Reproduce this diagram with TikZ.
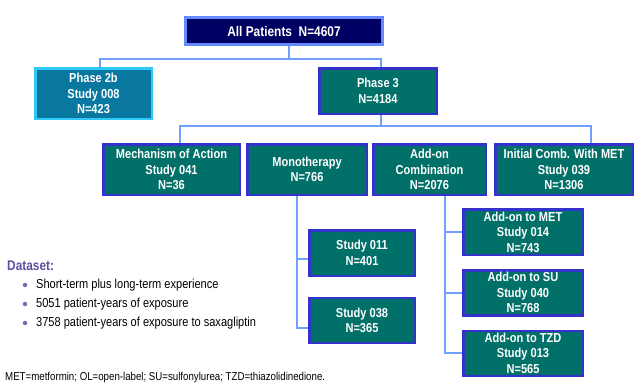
\documentclass[tikz,border=0pt]{standalone}
\usepackage{fontspec}
\setmainfont{Liberation Sans}[FakeStretch=0.85]
\usepackage{xcolor}
\usepackage{tikz}
\usetikzlibrary{positioning}
\definecolor{navyfill}{HTML}{000062}
\definecolor{paleedge}{HTML}{6688FF}
\definecolor{linkblue}{HTML}{72A0FF}
\definecolor{studyfill}{HTML}{007068}
\definecolor{studyedge}{HTML}{3333CC}
\definecolor{phasefill}{HTML}{0878A0}
\definecolor{phaseedge}{HTML}{30C8F8}
\definecolor{datacol}{HTML}{5C4F9F}
\definecolor{dotcol}{HTML}{6E6EB0}
\tikzstyle{topbox} = [rectangle, draw=paleedge, line width=3pt, fill=navyfill, text=white, font=\bfseries\fontsize{14}{16}\selectfont, minimum width=197pt, minimum height=27pt, inner sep=0pt]
\tikzstyle{study} = [rectangle, draw=studyedge, line width=2.5pt, fill=studyfill, text=white, align=center, font=\bfseries\fontsize{13}{15.5}\selectfont, inner sep=0pt]
\tikzstyle{link} = [draw=linkblue, line width=2pt]
\tikzstyle{dot} = [circle, fill=dotcol, minimum size=4.5pt, inner sep=0pt]
\tikzstyle{item} = [anchor=west, inner sep=0pt, font=\fontsize{13}{15}\selectfont]

\begin{document}
\begin{tikzpicture}[x=1pt, y=-1pt]
        \useasboundingbox (0,0) rectangle (635,389);
        \node (all) [topbox] at (284,31) {All Patients\ \ N=4607};
        \node (p2b) [study, fill=phasefill, draw=phaseedge, minimum width=116.5pt, minimum height=50.5pt] at (93.5,93.5) {Phase 2b\\Study 008\\N=423};
        \node (p3) [study, minimum width=117.5pt, minimum height=45.5pt] at (378,91) {Phase 3\\N=4184};

        \node (moa) [study, minimum width=136.5pt, minimum height=50.5pt] at (171.5,169.5) {Mechanism of Action\\Study 041\\N=36};
        \node (mono) [study, minimum width=119.5pt, minimum height=50.5pt, right=5pt of moa] {Monotherapy\\N=766};
        \node (addon) [study, minimum width=112.5pt, minimum height=50.5pt, right=4pt of mono] {Add-on\\Combination\\N=2076};
        \node (init) [study, minimum width=137.5pt, minimum height=50.5pt, right=7pt of addon] {Initial Comb. With MET\\Study 039\\N=1306};

        \node (s011) [study, minimum width=105.5pt, minimum height=45.5pt] at (362,253) {Study 011\\N=401};
        \node (s038) [study, minimum width=105.5pt, minimum height=45pt, below=19.5pt of s011] {Study 038\\N=365};

        \node (addmet) [study, minimum width=119.5pt, minimum height=45.5pt] at (523,232) {Add-on to MET\\Study 014\\N=743};
        \node (addsu) [study, minimum width=119.5pt, minimum height=45pt, below=13pt of addmet] {Add-on to SU\\Study 040\\N=768};
        \node (addtzd) [study, minimum width=119.5pt, minimum height=45pt, below=13pt of addsu] {Add-on to TZD\\Study 013\\N=565};

        \draw [link] ([xshift=5pt]all.south) -- ++(0,13) coordinate (bus1);
        \draw [link] ([xshift=6.5pt]p2b.north) |- (bus1) -| ([xshift=3pt]p3.north);
        \draw [link] ([xshift=3pt]p3.south) -- ++(0,11) coordinate (bus2);
        \draw [link] ([xshift=8.5pt]moa.north) |- (bus2) -| ([xshift=27pt]init.north);
        \draw [link] ([xshift=-10pt]mono.south) |- ([yshift=-6pt]s011.west);
        \draw [link] ([xshift=-10pt]mono.south) |- ([yshift=-7.5pt]s038.west);
        \draw [link] ([xshift=15.5pt]addon.south) |- (addmet.west);
        \draw [link] ([xshift=15.5pt]addon.south) |- (addsu.west);
        \draw [link] ([xshift=15.5pt]addon.south) |- (addtzd.west);

        \node (dataset) [anchor=west, inner sep=0pt, text=datacol, font=\bfseries\fontsize{14}{16}\selectfont] at (7,266) {Dataset:};
        \node (dot1) [dot] at (25,285) {};
        \node (item1) [item, right=8.5pt of dot1] {Short-term plus long-term experience};
        \node (dot2) [dot] at (25,304) {};
        \node (item2) [item, right=8.5pt of dot2] {5051 patient-years of exposure};
        \node (dot3) [dot] at (25,323) {};
        \node (item3) [item, right=8.5pt of dot3] {3758 patient-years of exposure to saxagliptin};

        \node (note) [anchor=west, inner sep=0pt, font=\fontsize{11.4}{13}\selectfont] at (5,378) {MET=metformin; OL=open-label; SU=sulfonylurea; TZD=thiazolidinedione.};
    \end{tikzpicture}
\end{document}
